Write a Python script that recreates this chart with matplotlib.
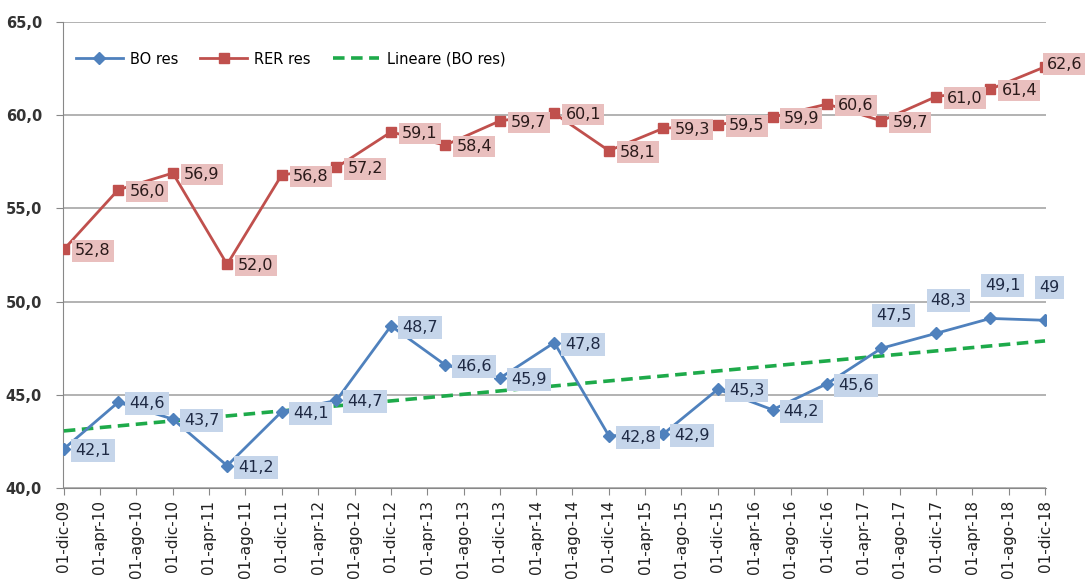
import matplotlib
matplotlib.use("Agg")
import matplotlib.pyplot as plt
import matplotlib.dates as mdates
import numpy as np
import pandas as pd

# ---- data ----
start_date = "2009-12-01"
n_points = 19
bo_res = [42.1, 44.6, 43.7, 41.2, 44.1, 44.7, 48.7, 46.6, 45.9, 47.8,
          42.8, 42.9, 45.3, 44.2, 45.6, 47.5, 48.3, 49.1, 49.0]
rer_res = [52.8, 56.0, 56.9, 52.0, 56.8, 57.2, 59.1, 58.4, 59.7, 60.1,
           58.1, 59.3, 59.5, 59.9, 60.6, 59.7, 61.0, 61.4, 62.6]
bo_labels = ["42,1", "44,6", "43,7", "41,2", "44,1", "44,7", "48,7", "46,6", "45,9", "47,8",
             "42,8", "42,9", "45,3", "44,2", "45,6", "47,5", "48,3", "49,1", "49"]
rer_labels = ["52,8", "56,0", "56,9", "52,0", "56,8", "57,2", "59,1", "58,4", "59,7", "60,1",
              "58,1", "59,3", "59,5", "59,9", "60,6", "59,7", "61,0", "61,4", "62,6"]
tick_labels = ["01-dic-09", "01-apr-10", "01-ago-10", "01-dic-10", "01-apr-11", "01-ago-11",
               "01-dic-11", "01-apr-12", "01-ago-12", "01-dic-12", "01-apr-13", "01-ago-13",
               "01-dic-13", "01-apr-14", "01-ago-14", "01-dic-14", "01-apr-15", "01-ago-15",
               "01-dic-15", "01-apr-16", "01-ago-16", "01-dic-16", "01-apr-17", "01-ago-17",
               "01-dic-17", "01-apr-18", "01-ago-18", "01-dic-18"]
series_names = ["BO res", "RER res", "Lineare (BO res)"]
y_ticks = [40, 45, 50, 55, 60, 65]

dates = pd.date_range(start_date, periods=n_points, freq="6MS")
tick_dates = pd.date_range(start_date, periods=len(tick_labels), freq="4MS")

BLUE = "#4F81BD"
RED = "#C0504D"
GREEN = "#1EAA4A"
BLUE_BOX = "#C5D5EA"
RED_BOX = "#E9BFBE"

fig = plt.figure(figsize=(10.85, 5.81), dpi=100)
ax = fig.add_axes([0.058, 0.16, 0.906, 0.802])

xnum = mdates.date2num(dates)

# trend line (linear regression of BO res)
coef = np.polyfit(xnum, bo_res, 1)
trend = np.polyval(coef, xnum)

l1, = ax.plot(dates, bo_res, color=BLUE, lw=2, marker="D", ms=6, label=series_names[0], zorder=4)
l2, = ax.plot(dates, rer_res, color=RED, lw=2, marker="s", ms=7, label=series_names[1], zorder=4)
l3, = ax.plot(dates, trend, color=GREEN, lw=2.6, ls=(0, (3.2, 1.8)), label=series_names[2], zorder=3)

FS = 11.5
# data labels
above_idx = {15, 16, 17, 18}
for i, (d, v, t) in enumerate(zip(dates, bo_res, bo_labels)):
    if i in above_idx:
        ax.annotate(t, (d, v), xytext=(-4, 18), textcoords="offset points",
                    ha="left", va="bottom", fontsize=FS, color="#1F2A44",
                    bbox=dict(boxstyle="square,pad=0.25", fc=BLUE_BOX, ec="none"), zorder=5)
    else:
        ax.annotate(t, (d, v), xytext=(8, -1), textcoords="offset points",
                    ha="left", va="center", fontsize=FS, color="#1F2A44",
                    bbox=dict(boxstyle="square,pad=0.25", fc=BLUE_BOX, ec="none"), zorder=5)
for i, (d, v, t) in enumerate(zip(dates, rer_res, rer_labels)):
    off = (1, 2) if i == len(rer_res) - 1 else (8, -1)
    ax.annotate(t, (d, v), xytext=off, textcoords="offset points",
                ha="left", va="center", fontsize=FS, color="#2A1A1A",
                bbox=dict(boxstyle="square,pad=0.2", fc=RED_BOX, ec="none"), zorder=5)

ax.set_ylim(40, 65)
ax.set_yticks(y_ticks)
ax.set_yticklabels([f"{v:.1f}".replace(".", ",") for v in y_ticks], fontsize=10.5, fontweight="bold",
                   color="#333333")
ax.set_xlim(mdates.date2num(dates[0]) - 3, mdates.date2num(dates[-1]) + 3)
ax.set_xticks(tick_dates)
ax.set_xticklabels(tick_labels, rotation=90, fontsize=11, color="#222222")

ax.grid(axis="y", color="#A6A6A6", lw=1.2)
ax.set_axisbelow(True)
for s in ["top", "right"]:
    ax.spines[s].set_visible(False)
for s in ["left", "bottom"]:
    ax.spines[s].set_color("#888888")
ax.tick_params(axis="both", color="#888888", length=5, direction="out")
ax.tick_params(axis="y", pad=10)

leg = ax.legend(handles=[l1, l2, l3], loc="upper left", bbox_to_anchor=(0.0, 0.965), ncol=3,
                frameon=False, fontsize=10.5, handlelength=3.2, columnspacing=1.5,
                handletextpad=0.5)

fig.savefig("out.png", dpi=100)
